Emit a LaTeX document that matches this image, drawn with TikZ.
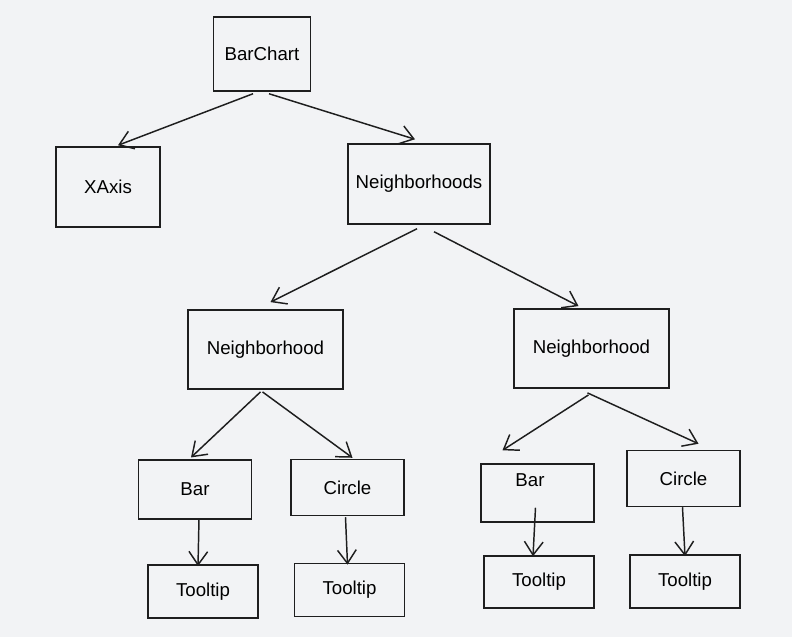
\documentclass[tikz,border=0pt]{standalone}
\usepackage{fontspec}
\setmainfont{Liberation Sans}
\usetikzlibrary{arrows.meta,calc}

\tikzset{every picture/.style={line width=1.1pt}}
\tikzset{
  box/.style={draw={rgb, 255:red, 30; green, 30; blue, 30}, rectangle, inner sep=0pt, font=\fontsize{14}{16}\selectfont},
  bigbox/.style={box, minimum width=116pt, minimum height=59.5pt},
  smallbox/.style={box, minimum width=85pt, minimum height=42pt},
  tipbox/.style={box, minimum width=82.5pt, minimum height=40pt},
  arr/.style={draw={rgb, 255:red, 30; green, 30; blue, 30}, -{Straight Barb[length=10pt,width=14pt]}}
}

\begin{document}
\begin{tikzpicture}[x=0.75pt,y=0.75pt,yscale=-1,xscale=1]
%Background
\fill [color={rgb, 255:red, 242; green, 243; blue, 245 }] (0,0) rectangle (792,637);
\useasboundingbox (0,0) rectangle (792,637);

%Shape: Rectangle [BarChart]
\node [box, minimum width=72.75pt, minimum height=55.5pt] (barchart) at (262,54) {BarChart};
%Shape: Rectangle [XAxis]
\node [box, minimum width=78pt, minimum height=60pt] (xaxis) at (108,187) {XAxis};
%Shape: Rectangle [Neighborhoods]
\node [box, minimum width=106.5pt, minimum height=60pt] (hoods) at (419,184) {Neighborhoods};
%Shape: Rectangle [Neighborhood]
\node [bigbox] (hoodl) at (265.5,349.5) {Neighborhood};
\node [bigbox] (hoodr) at (591.5,348.5) {Neighborhood};
%Shape: Rectangle [Bar, Circle]
\node [smallbox, minimum height=44pt] (barl) at (195,489.5) {Bar};
\node [smallbox] (circlel) at (347.5,487.5) {Circle};
\node [smallbox, minimum height=43.5pt] (barr) at (537.5,493) {};
\node [inner sep=0pt, font=\fontsize{14}{16}\selectfont] (barrtext) at (530,480) {Bar};
\node [smallbox] (circler) at (683.5,478.5) {Circle};
%Shape: Rectangle [Tooltip]
\node [tipbox] (tipl) at (203,591.5) {Tooltip};
\node [tipbox] (tipc) at (349.5,590) {Tooltip};
\node [tipbox, minimum height=39pt] (tipr) at (539,582) {Tooltip};
\node [tipbox] (tiprr) at (685,581.5) {Tooltip};

%Straight Lines
\draw [arr] ($(barchart.south)+(-9,2)$) -- ($(xaxis.north)+(10,-1)$);
\draw [arr] ($(barchart.south)+(7,2)$) -- ($(hoods.north)+(-4,-4)$);
\draw [arr] ($(hoods.south)+(-2,4)$) -- ($(hoodl.north)+(5,-7)$);
\draw [arr] ($(hoods.south)+(15,7)$) -- ($(hoodr.north)+(-13,-2)$);
\draw [arr] ($(hoodl.south)+(-5,2)$) -- ($(barl.north)+(-4,-2)$);
\draw [arr] ($(hoodl.south)+(-3,2)$) -- ($(circlel.north)+(5,-1)$);
\draw [arr] ($(hoodr.south)+(-3,6)$) -- ($(barr.north)+(-35,-13)$);
\draw [arr] ($(hoodr.south)+(-4,4)$) -- ($(circler.north)+(15,-6)$);
\draw [arr] ($(barl.south)+(4,-1)$) -- ($(tipl.north)+(-5,2)$);
\draw [arr] ($(circlel.south)+(-2,1)$) -- ($(tipc.north)+(-2,2)$);
\draw [arr] ($(barr.south)+(-2,-15)$) -- ($(tipr.north)+(-6,1)$);
\draw [arr] ($(circler.south)+(-1,0)$) -- ($(tiprr.north)+(0,2)$);
\end{tikzpicture}
\end{document}
